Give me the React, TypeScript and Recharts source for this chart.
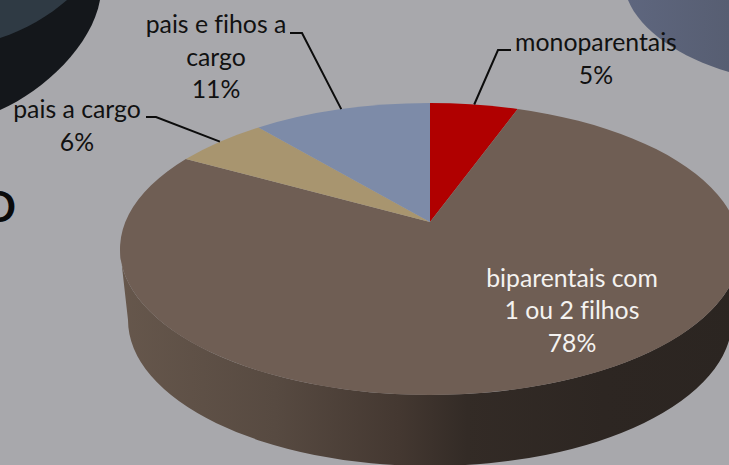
import React from "react";
import { PieChart, Pie, Cell } from "recharts";

const categories = ["monoparentais", "biparentais com 1 ou 2 filhos", "pais a cargo", "pais e fihos a cargo"];
const shares = [5.49, 77.6, 5.8, 11.11];
const wrappedNames = [["monoparentais"], ["biparentais com", "1 ou 2 filhos"], ["pais a cargo"], ["pais e fihos a", "cargo"]];
const sliceColors = ["#b00000", "#6f5e54", "#a8956f", "#7d8ba8"];

const W = 729;
const H = 465;
const CX = 430;
const CY = 249;
const RX = 310;
const SQUASH = 146 / 310;
const TILT = 0.185;
const FONT = "Lato, Carlito, 'Open Sans', sans-serif";
const FONT_SIZE = 24.8;
const LINE_H = 32.7;

const labelLayout = [
  { x: 596, y: 51, color: "#111", leader: [[511, 50], [498, 50]] },
  { x: 572, y: 286.5, color: "#f4f2f0", leader: [] },
  { x: 77, y: 118, color: "#111", leader: [[146, 117], [156, 117]] },
  { x: 216, y: 33, color: "#111", leader: [[290, 33], [302, 33]] },
];

const data = categories.map((name, i) => ({ name, value: shares[i] }));

// Perspective projection of the circle onto the tilted pie face.
function project(cx: number, cy: number, r: number, angleDeg: number) {
  const t = ((90 - angleDeg) * Math.PI) / 180;
  const u = Math.sin(t);
  const v = Math.cos(t);
  const d = 1 + TILT * v;
  const px = (u * Math.sqrt(1 - TILT * TILT)) / d;
  const py = (v + TILT) / d;
  return { x: cx + r * px, y: cy - r * SQUASH * py };
}

function SliceShape(props: any) {
  const { cx, cy, outerRadius: r, startAngle, endAngle, fill } = props;
  const a = project(cx, cy, r, startAngle);
  const b = project(cx, cy, r, endAngle);
  const c = { x: cx, y: cy - r * SQUASH * TILT };
  const ry = r * SQUASH;
  const large = Math.abs(startAngle - endAngle) > 180 ? 1 : 0;
  const top = `M${c.x},${c.y} L${a.x},${a.y} A${r},${ry} 0 ${large} 1 ${b.x},${b.y} Z`;
  const spansFront = startAngle >= -90 && endAngle <= -90;
  const rb = r - 8;
  const cyb = cy + 71;
  const wall = `M${cx - r},${cy} L${cx - rb},${cyb} A${rb},${ry} 0 0 0 ${cx + rb},${cyb} L${cx + r},${cy} A${r},${ry} 0 0 1 ${cx - r},${cy} Z`;
  return (
    <g>
      {spansFront && (
        <>
          <defs>
            <linearGradient id="wallShade" x1="0" x2="1" y1="0" y2="0">
              <stop offset="0" stopColor="#66574c" />
              <stop offset="0.25" stopColor="#574a41" />
              <stop offset="0.45" stopColor="#443831" />
              <stop offset="0.56" stopColor="#332b26" />
              <stop offset="0.78" stopColor="#2d2622" />
              <stop offset="1" stopColor="#2b2521" />
            </linearGradient>
          </defs>
          <path d={wall} fill="url(#wallShade)" stroke="none" />
        </>
      )}
      <path d={top} fill={fill} stroke="none" />
    </g>
  );
}

function SliceLabel(props: any) {
  const { cx, cy, outerRadius, midAngle, index, value } = props;
  const layout = labelLayout[index];
  const lines = [...wrappedNames[index], `${Math.round(value)}%`];
  const end = project(cx, cy, outerRadius, midAngle);
  const pts = [...layout.leader, [end.x, end.y]];
  return (
    <g>
      {layout.leader.length > 0 && (
        <polyline points={pts.map((p) => p.join(",")).join(" ")} fill="none" stroke="#0c0c0c" strokeWidth={2} />
      )}
      <text textAnchor="middle" fontFamily={FONT} fontSize={FONT_SIZE} fill={layout.color} style={{ fontVariantLigatures: "none" }}>
        {lines.map((t, i) => (
          <tspan key={i} x={layout.x} y={layout.y + i * LINE_H}>
            {t}
          </tspan>
        ))}
      </text>
    </g>
  );
}

export default function App() {
  return (
    <div style={{ position: "absolute", left: 0, top: 0, width: W, height: H, background: "#a8a8ac", overflow: "hidden" }}>
      <svg width={W} height={H} style={{ position: "absolute", left: 0, top: 0 }}>
        <defs>
          <linearGradient id="discRight" x1="0" x2="1" y1="0" y2="0">
            <stop offset="0" stopColor="#5e667e" />
            <stop offset="1" stopColor="#575e72" />
          </linearGradient>
        </defs>
        <path d="M0,0 L100,0 C92,45 45,90 0,110 Z" fill="#14171b" />
        <path d="M0,0 L67,0 C50,15 25,30 0,38 Z" fill="#2f3a44" />
        <path d="M628,0 C640,30 680,58 729,72 L729,0 Z" fill="url(#discRight)" />
        <text x={16} y={222} textAnchor="end" fontFamily={FONT} fontWeight={700} fontSize={42} fill="#0a0a0a">
          D
        </text>
      </svg>
      <div style={{ position: "absolute", left: 0, top: 0 }}>
        <PieChart width={W} height={H} margin={{ top: 0, right: 0, bottom: 0, left: 0 }}>
          <Pie
            data={data}
            dataKey="value"
            nameKey="name"
            cx={CX}
            cy={CY}
            innerRadius={0}
            outerRadius={RX}
            startAngle={90}
            endAngle={-270}
            stroke="none"
            isAnimationActive={false}
            shape={SliceShape}
            label={SliceLabel}
            labelLine={false}
          >
            {data.map((d, i) => (
              <Cell key={d.name} fill={sliceColors[i]} />
            ))}
          </Pie>
        </PieChart>
      </div>
    </div>
  );
}
